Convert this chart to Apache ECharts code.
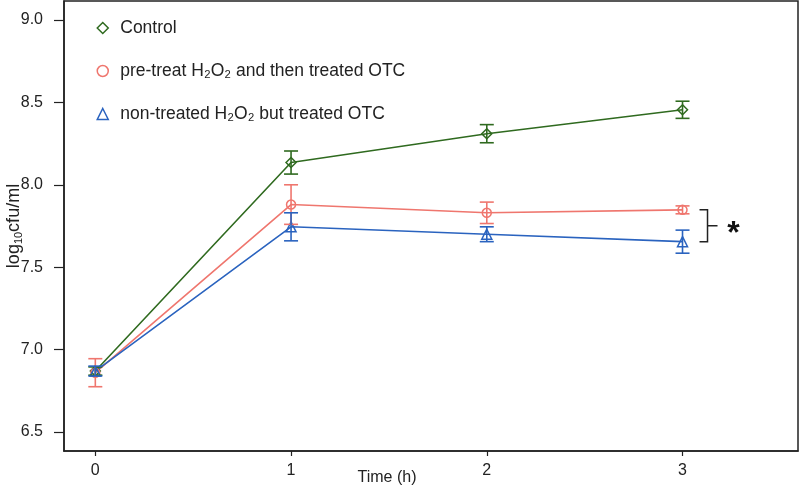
<!DOCTYPE html>
<html>
<head>
<meta charset="utf-8">
<script src="https://cdn.jsdelivr.net/npm/echarts@6/dist/echarts.min.js"></script>
<style>html,body{margin:0;padding:0;background:#fff}#c{width:800px;height:487px}</style>
</head>
<body>
<div id="c"></div>
<script>
const times = [0, 1, 2, 3];
const xTicks = [0, 1, 2, 3];
const yTicks = [6.5, 7.0, 7.5, 8.0, 8.5, 9.0];
const seriesNames = ['Control', 'pre-treat H\u2082O\u2082 and then treated OTC', 'non-treated H\u2082O\u2082 but treated OTC'];
const controlMean = [6.87, 8.135, 8.31, 8.455];
const controlErr = [0.025, 0.07, 0.055, 0.052];
const pretreatMean = [6.86, 7.88, 7.83, 7.848];
const pretreatErr = [0.085, 0.12, 0.065, 0.024];
const nontreatMean = [6.87, 7.745, 7.70, 7.655];
const nontreatErr = [0.03, 0.085, 0.045, 0.07];
const colors = ['#2f6a1f', '#ef766e', '#2a63bf'];
const symbols = ['diamond', 'circle', 'triangle'];
const symSizes = [10, 9, 10];
const means = [controlMean, pretreatMean, nontreatMean];
const errs = [controlErr, pretreatErr, nontreatErr];

const FONT = "'Liberation Sans', Arial, sans-serif";
const chart = echarts.init(document.getElementById('c'), null, {renderer: 'canvas'});

const series = [];
means.forEach((m, i) => {
  series.push({
    type: 'custom',
    name: seriesNames[i] + '_err',
    z: 3,
    silent: true,
    data: times.map((t, j) => [t, m[j] - errs[i][j], m[j] + errs[i][j]]),
    renderItem: function (params, api) {
      const x = api.value(0);
      const pLo = api.coord([x, api.value(1)]);
      const pHi = api.coord([x, api.value(2)]);
      const hw = 7;
      const st = {stroke: colors[i], lineWidth: 1.6};
      return {
        type: 'group',
        children: [
          {type: 'line', shape: {x1: pLo[0], y1: pLo[1], x2: pHi[0], y2: pHi[1]}, style: st},
          {type: 'line', shape: {x1: pLo[0] - hw, y1: pLo[1], x2: pLo[0] + hw, y2: pLo[1]}, style: st},
          {type: 'line', shape: {x1: pHi[0] - hw, y1: pHi[1], x2: pHi[0] + hw, y2: pHi[1]}, style: st}
        ]
      };
    }
  });
});
means.forEach((m, i) => {
  series.push({
    type: 'line',
    name: seriesNames[i],
    z: 2,
    data: times.map((t, j) => [t, m[j]]),
    symbol: symbols[i],
    symbolSize: symSizes[i],
    showAllSymbol: true,
    lineStyle: {color: colors[i], width: 1.6},
    itemStyle: {color: 'transparent', borderColor: colors[i], borderWidth: 1.5},
    emphasis: {disabled: true}
  });
});

chart.setOption({
  animation: false,
  backgroundColor: '#fff',
  textStyle: {fontFamily: FONT},
  grid: {left: 64, right: 2, top: 1, bottom: 36, show: true, borderColor: '#222', borderWidth: 1.5,
    containLabel: false, outerBoundsMode: 'none'},
  legend: {
    orient: 'vertical',
    left: 91.5,
    top: 14,
    itemWidth: 11,
    itemHeight: 11,
    itemGap: 25,
    selectedMode: false,
    textStyle: {fontFamily: FONT, fontSize: 17.5, color: '#222', padding: [0, 0, 0, 7]},
    data: seriesNames.map((n, i) => ({
      name: n,
      icon: symbols[i],
      itemStyle: {color: '#fff', borderColor: colors[i], borderWidth: 1.5}
    }))
  },
  xAxis: {
    type: 'value',
    min: -0.16,
    max: 3.59,
    name: 'Time (h)',
    nameLocation: 'middle',
    nameGap: 19,
    nameMoveOverlap: false,
    nameTextStyle: {fontFamily: FONT, fontSize: 16, color: '#222', padding: [0, 88, 0, 0]},
    axisLine: {show: true, onZero: false, lineStyle: {color: '#222', width: 1.5}},
    axisTick: {show: true, length: 5, customValues: xTicks, lineStyle: {color: '#222', width: 1.2}},
    axisLabel: {customValues: xTicks, fontFamily: FONT, fontSize: 16, color: '#222', margin: 12},
    splitLine: {show: false}
  },
  yAxis: {
    type: 'value',
    min: 6.385,
    max: 9.115,
    name: '{a|log}{s|10}{a|cfu/ml}',
    nameLocation: 'middle',
    nameRotate: 90,
    nameGap: 40,
    nameMoveOverlap: false,
    nameTextStyle: {
      rich: {
        a: {fontFamily: FONT, fontSize: 18, color: '#222'},
        s: {fontFamily: FONT, fontSize: 11, color: '#222', verticalAlign: 'bottom', padding: [8, 0, 0, 0]}
      }
    },
    axisLine: {show: true, onZero: false, lineStyle: {color: '#222', width: 1.5}},
    axisTick: {show: true, length: 10, customValues: yTicks, lineStyle: {color: '#222', width: 1.2}},
    axisLabel: {customValues: yTicks, fontFamily: FONT, fontSize: 16, color: '#222', margin: 21,
      formatter: v => v.toFixed(1)},
    splitLine: {show: false}
  },
  series: series
});

// significance bracket annotation between the two treated groups at the last time point
const lastT = times[times.length - 1];
const pTop = chart.convertToPixel({gridIndex: 0}, [lastT, pretreatMean[3]]);
const pBot = chart.convertToPixel({gridIndex: 0}, [lastT, nontreatMean[3]]);
const bx = pTop[0] + 25;
const midY = (pTop[1] + pBot[1]) / 2;
chart.setOption({
  graphic: [
    {type: 'polyline', shape: {points: [[bx - 8, pTop[1]], [bx, pTop[1]], [bx, pBot[1]], [bx - 8, pBot[1]]]},
      style: {stroke: '#222', lineWidth: 1.5, fill: null}},
    {type: 'line', shape: {x1: bx, y1: midY, x2: bx + 10, y2: midY}, style: {stroke: '#222', lineWidth: 1.5}},
    {type: 'text', x: bx + 26, y: midY + 8, style: {text: '*', font: 'bold 32px ' + FONT, fill: '#111', align: 'center', verticalAlign: 'middle'}}
  ]
});
</script>
</body>
</html>
